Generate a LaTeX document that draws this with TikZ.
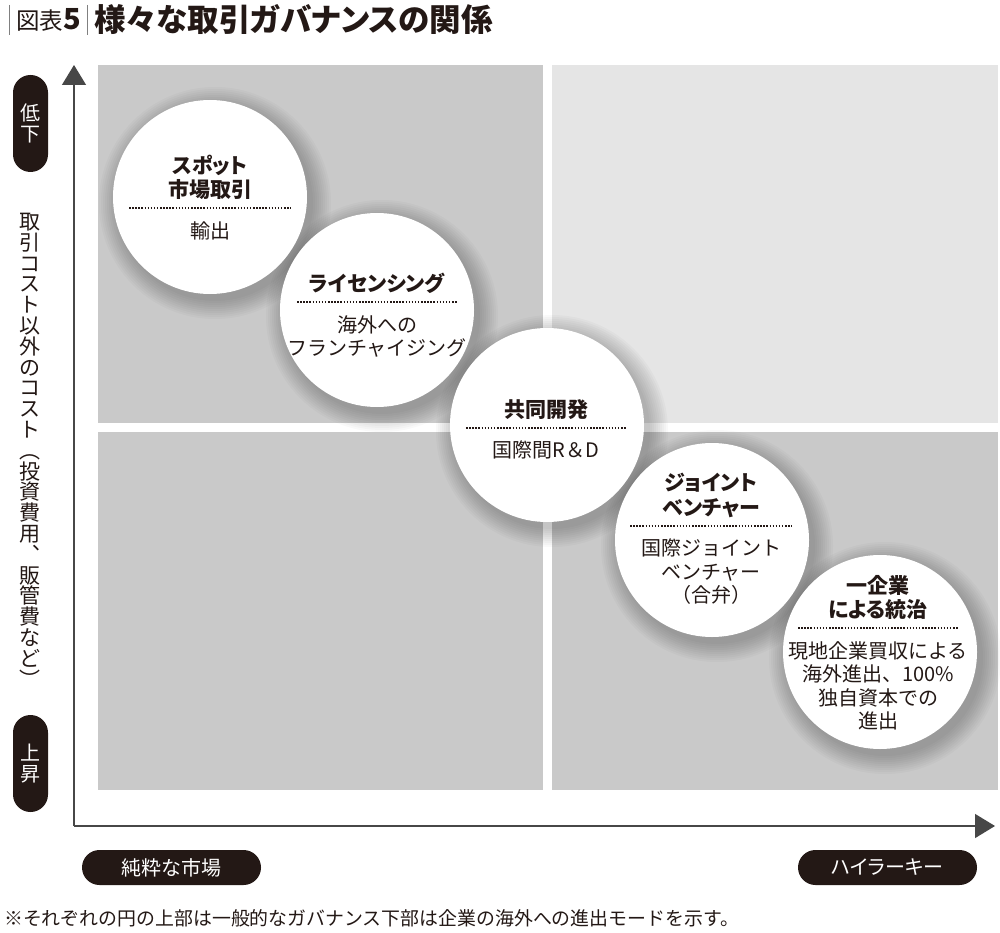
\documentclass[tikz,border=0pt]{standalone}
\usepackage{fontspec}
\setmainfont{Noto Sans CJK JP}
\newfontfamily\propjp{Noto Sans CJK JP}[RawFeature=+palt]
\usetikzlibrary{positioning,arrows.meta}

\definecolor{ink}{HTML}{231815}
\definecolor{quaddark}{gray}{0.79}
\definecolor{quadlight}{gray}{0.9}
\definecolor{axisgray}{gray}{0.28}
\newcommand\tightstack{\lineskiplimit-10pt\relax}

\begin{document}
\begin{tikzpicture}[x=1pt, y=-1pt,
        disc/.style={circle, fill=white, minimum size=194pt, inner sep=0pt},
        head/.style={font=\propjp\bfseries\fontsize{21}{24.5}\selectfont, align=center, inner sep=0pt, text=ink},
        body/.style={font=\fontsize{20}{23.5}\selectfont, align=center, inner sep=0pt, text=ink},
        sep/.style={ink, line width=2pt, dash pattern=on 1.5pt off 1.6pt},
        pill/.style={fill=ink, text=white, rounded corners=17.5pt, inner sep=0pt},
        axis/.style={axisgray, line width=1.3pt, -{Triangle[length=20pt, width=24pt]}},
    ]
    \fill[white] (0,0) rectangle (1000,933);
    \useasboundingbox (0,0) rectangle (1000,933);

    % title
    \draw[gray, line width=0.9pt] (9,5) -- (9,35);
    \draw[gray, line width=0.9pt] (87,5) -- (87,35);
    \node (fig) [anchor=west, inner sep=0pt, text=ink, font=\fontsize{23.5}{23.5}\selectfont] at (16,20) {図表{\bfseries\fontsize{29}{29}\selectfont 5}};
    \node (title) [anchor=west, inner sep=0pt, text=ink, font=\propjp\bfseries\fontsize{31.5}{31.5}\selectfont] at (94,20) {様々な取引ガバナンスの関係};

    % quadrants
    \fill[quaddark] (98,65) rectangle (543,423);
    \fill[quadlight] (552,65) rectangle (998,423);
    \fill[quaddark] (98,432) rectangle (543,790);
    \fill[quaddark] (552,432) rectangle (998,790);

    % axes
    \coordinate (o) at (74,826);
    \coordinate (ytip) at (74,65);
    \coordinate (xtip) at (995,826);
    \draw[axis] (o) -- (ytip);
    \draw[axis] (o) -- (xtip);

    \node (low) [pill, minimum width=35pt, minimum height=97pt, align=center,
        font=\fontsize{20}{21}\selectfont\tightstack] at (30.5,123.5) {低\\下};
    \node (high) [pill, minimum width=35pt, minimum height=97pt, align=center,
        font=\fontsize{20}{21}\selectfont\tightstack] at (30.5,763.5) {上\\昇};
    \node (ylabel) [anchor=north, inner sep=0pt, align=center, text=ink,
        font=\fontsize{21}{20.8}\selectfont\tightstack] at (30,213)
        {取\\引\\コ\\ス\\ト\\以\\外\\の\\コ\\ス\\ト\\︵\\投\\資\\費\\用\\︑\\販\\管\\費\\な\\ど\\︶};

    \node (pure) [pill, minimum width=179pt, minimum height=35pt, font=\fontsize{20}{20}\selectfont] at (171.5,867.5) {純粋な市場};
    \node (hier) [pill, minimum width=179pt, minimum height=35pt, font=\propjp\fontsize{20}{20}\selectfont] at (887.5,867.5) {ハイラーキー};

    % circles
    \coordinate (p1) at (210,197);
    \coordinate (p2) at (377,310);
    \coordinate (p3) at (547,425);
    \coordinate (p4) at (712,540);
    \coordinate (p5) at (880,652);
    \foreach \p in {p1,p2,p3,p4,p5}
        \foreach \d in {1,...,10}
            \fill[black, opacity=0.022] ([shift={(5pt,-6pt)}]\p) circle[radius=96pt+2*\d pt];

    \node (c1) [disc] at (p1) {};
    \coordinate (s1) at (210,208);
    \node (h1) [head, above=8pt of s1] {スポット\\市場取引};
    \node (b1) [body, below=13pt of s1] {輸出};
    \draw[sep] ([xshift=-81pt]s1) -- ([xshift=81pt]s1);

    \node (c2) [disc] at (p2) {};
    \coordinate (s2) at (377,302);
    \node (h2) [head, above=8pt of s2] {ライセンシング};
    \node (b2) [body, below=13pt of s2] {海外への\\フランチャイジング};
    \draw[sep] ([xshift=-80pt]s2) -- ([xshift=80pt]s2);

    \node (c3) [disc] at (p3) {};
    \coordinate (s3) at (546,428);
    \node (h3) [head, above=8pt of s3] {共同開発};
    \node (b3) [body, below=13pt of s3] {国際間R＆D};
    \draw[sep] ([xshift=-80pt]s3) -- ([xshift=80pt]s3);

    \node (c4) [disc] at (p4) {};
    \coordinate (s4) at (711,526);
    \node (h4) [head, above=8pt of s4] {ジョイント\\ベンチャー};
    \node (b4) [body, below=13pt of s4] {国際ジョイント\\ベンチャー\\（合弁）};
    \draw[sep] ([xshift=-81pt]s4) -- ([xshift=81pt]s4);

    \node (c5) [disc] at (p5) {};
    \coordinate (s5) at (878,628);
    \node (h5) [head, above=8pt of s5] {一企業\\による統治};
    \node (b5) [body, below=13pt of s5] {現地企業買収による\\海外進出、100\%\\独自資本での\\進出};
    \draw[sep] ([xshift=-80pt]s5) -- ([xshift=80pt]s5);

    % note
    \node (note) [anchor=west, inner sep=0pt, text=ink, font=\fontsize{18.9}{18.9}\selectfont] at (4,918)
        {※それぞれの円の上部は一般的なガバナンス下部は企業の海外への進出モードを示す。};
\end{tikzpicture}
\end{document}
